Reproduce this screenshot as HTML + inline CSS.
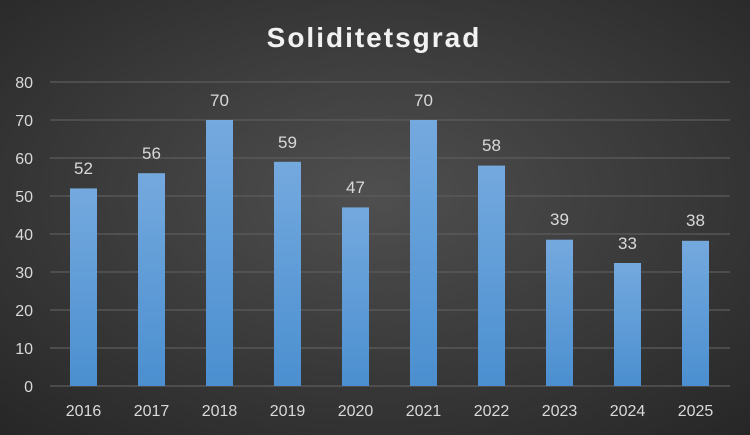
<!DOCTYPE html><html><head><style>body{margin:0}svg{display:block}</style></head><body>
<svg width="750" height="435" xmlns="http://www.w3.org/2000/svg" font-family="Liberation Sans, sans-serif">
<defs>
<radialGradient id="bg" cx="0.5" cy="0.45" r="0.75"><stop offset="0" stop-color="#4f4f4f"/><stop offset="1" stop-color="#262626"/></radialGradient>
<linearGradient id="bar" x1="0" y1="0" x2="0" y2="1"><stop offset="0" stop-color="#74a9de"/><stop offset="1" stop-color="#4b8fd0"/></linearGradient>
</defs>
<rect width="750" height="435" fill="url(#bg)"/>
<text x="374" y="47" text-anchor="middle" font-size="28" font-weight="bold" fill="#f2f2f2" letter-spacing="2">Soliditetsgrad</text>
<g stroke="#5c5c5c" stroke-width="1.2">
<line x1="50" x2="730" y1="82" y2="82"/><line x1="50" x2="730" y1="120" y2="120"/><line x1="50" x2="730" y1="158" y2="158"/><line x1="50" x2="730" y1="196" y2="196"/><line x1="50" x2="730" y1="234" y2="234"/><line x1="50" x2="730" y1="272" y2="272"/><line x1="50" x2="730" y1="310" y2="310"/><line x1="50" x2="730" y1="348" y2="348"/><line x1="50" x2="730" y1="386" y2="386"/>
</g>
<g fill="#d9d9d9" font-size="16" text-anchor="end">
<text x="33" y="88">80</text><text x="33" y="126">70</text><text x="33" y="164">60</text><text x="33" y="202">50</text><text x="33" y="240">40</text><text x="33" y="278">30</text><text x="33" y="316">20</text><text x="33" y="354">10</text><text x="33" y="392">0</text>
</g>
<g fill="url(#bar)">
<rect x="70" y="188.4" width="27" height="197.6"/>
<rect x="138" y="173.2" width="27" height="212.8"/>
<rect x="206" y="120" width="27" height="266"/>
<rect x="274" y="161.8" width="27" height="224.2"/>
<rect x="342" y="207.4" width="27" height="178.6"/>
<rect x="410" y="120" width="27" height="266"/>
<rect x="478" y="165.6" width="27" height="220.4"/>
<rect x="546" y="239.7" width="27" height="146.3"/>
<rect x="614" y="263" width="27" height="123"/>
<rect x="682" y="240.8" width="27" height="145.2"/>
</g>
<g fill="#d9d9d9" font-size="17" text-anchor="middle">
<text x="83.5" y="174">52</text><text x="151.5" y="159">56</text><text x="219.5" y="106">70</text><text x="287.5" y="148">59</text><text x="355.5" y="193">47</text><text x="423.5" y="106">70</text><text x="491.5" y="151">58</text><text x="559.5" y="225">39</text><text x="627.5" y="249">33</text><text x="695.5" y="226">38</text>
</g>
<g fill="#d9d9d9" font-size="16" text-anchor="middle">
<text x="83.5" y="416">2016</text><text x="151.5" y="416">2017</text><text x="219.5" y="416">2018</text><text x="287.5" y="416">2019</text><text x="355.5" y="416">2020</text><text x="423.5" y="416">2021</text><text x="491.5" y="416">2022</text><text x="559.5" y="416">2023</text><text x="627.5" y="416">2024</text><text x="695.5" y="416">2025</text>
</g>
</svg></body></html>
